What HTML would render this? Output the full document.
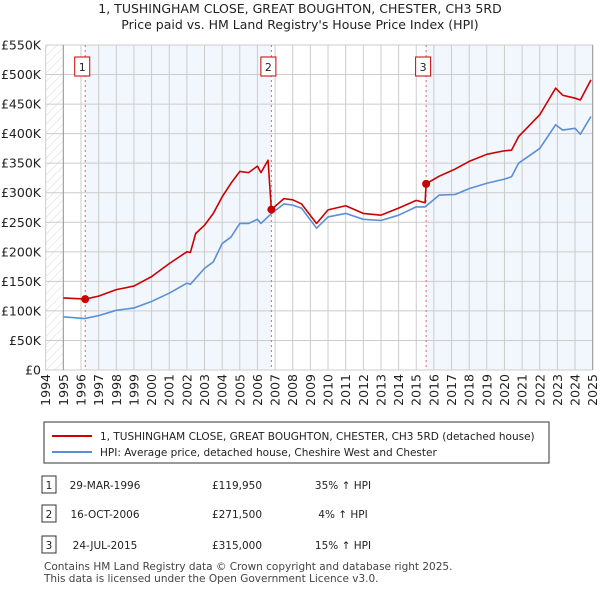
<!DOCTYPE html>
<html><head><meta charset="utf-8"><style>
body{margin:0;background:#fff;font-family:"Liberation Sans",sans-serif;}
svg text{font-family:"DejaVu Sans","Liberation Sans",sans-serif;}
</style></head><body>
<svg id="c" width="600" height="590" xmlns="http://www.w3.org/2000/svg">
<defs><pattern id="hatch" width="6" height="6" patternUnits="userSpaceOnUse" patternTransform="rotate(45)"><line x1="0" y1="0" x2="0" y2="6" stroke="#d8d8d8" stroke-width="1"/></pattern></defs>
<text x="300" y="13" text-anchor="middle" font-size="12.5" fill="#222">1, TUSHINGHAM CLOSE, GREAT BOUGHTON, CHESTER, CH3 5RD</text>
<text x="300" y="29" text-anchor="middle" font-size="12.5" fill="#222">Price paid vs. HM Land Registry's House Price Index (HPI)</text>
<g id="plot"></g>
<g>
<rect x="44" y="422" width="505" height="41" fill="#fff" stroke="#333"/>
<line x1="52" y1="436" x2="92" y2="436" stroke="#cc0000" stroke-width="2"/>
<text x="100" y="440" font-size="10.5" fill="#222">1, TUSHINGHAM CLOSE, GREAT BOUGHTON, CHESTER, CH3 5RD (detached house)</text>
<line x1="52" y1="452" x2="92" y2="452" stroke="#5b8fd4" stroke-width="2"/>
<text x="100" y="456" font-size="10.5" fill="#222">HPI: Average price, detached house, Cheshire West and Chester</text>
</g>
<g id="table" font-size="10.5" fill="#222"></g>
<text x="44" y="570" font-size="10.5" fill="#444">Contains HM Land Registry data © Crown copyright and database right 2025.</text>
<text x="44" y="582" font-size="10.5" fill="#444">This data is licensed under the Open Government Licence v3.0.</text>
</svg>
<script>
const hpiYears=[1995,1996.2,1997,1998,1999,2000,2001,2002,2002.2,2003,2003.5,2004,2004.5,2005,2005.5,2006,2006.2,2006.8,2007.5,2008,2008.5,2009.35,2010,2011,2012,2013,2014,2015,2015.5,2016.3,2017.2,2018,2019,2020,2020.4,2020.8,2022,2022.9,2023.3,2024,2024.3,2024.9];
const hpiValues=[90,87,92,101,105,116,130,147,145,172,183,214,225,248,248,255,248,265,281,279,274,240,259,265,255,253,262,276,276,296,297,307,316,323,327,350,375,415,406,409,399,429];
const propYears=[1995,1996.24,1997,1998,1999,2000,2001,2002,2002.2,2002.5,2003,2003.5,2004,2004.5,2005,2005.5,2006,2006.2,2006.6,2006.79,2007.5,2008,2008.5,2009.35,2010,2011,2012,2013,2014,2015,2015.5,2015.56,2016.3,2017.2,2018,2019,2020,2020.4,2020.8,2022,2022.9,2023.3,2024,2024.3,2024.9];
const propValues=[122,120,125,136,142,158,180,200,199,231,245,265,293,316,336,334,345,334,355,271.5,290,288,281,248,271,278,265,262,274,287,283,315,328,340,353,365,371,372,395,432,477,465,460,457,491];
const saleYears=[1996.24,2006.79,2015.56];
const saleValues=[119.95,271.5,315];
const saleLabels=["1","2","3"];
const saleDates=["29-MAR-1996","16-OCT-2006","24-JUL-2015"];
const salePrices=["£119,950","£271,500","£315,000"];
const salePcts=["35% ↑ HPI","4% ↑ HPI","15% ↑ HPI"];
const yTicks=[0,50,100,150,200,250,300,350,400,450,500,550];
const yTickLabels=["£0","£50K","£100K","£150K","£200K","£250K","£300K","£350K","£400K","£450K","£500K","£550K"];
const xTicks=[1994,1995,1996,1997,1998,1999,2000,2001,2002,2003,2004,2005,2006,2007,2008,2009,2010,2011,2012,2013,2014,2015,2016,2017,2018,2019,2020,2021,2022,2023,2024,2025];

const X0=45.7,X1=592.7,Y0=370,Y1=45;
const x=y=>X0+(y-1994)/(2025-1994)*(X1-X0);
const yv=v=>Y0-v/550*(Y0-Y1);
const NS="http://www.w3.org/2000/svg";
const plot=document.getElementById('plot');
function mk(tag,attrs,parent){const e=document.createElementNS(NS,tag);for(const k in attrs)e.setAttribute(k,attrs[k]);(parent||plot).appendChild(e);return e;}

let r=mk('rect',{x:X0,y:Y1,width:X1-X0,height:Y0-Y1,fill:'#fff'});


r=mk('rect',{x:X0,y:Y1,width:x(1995)-X0,height:Y0-Y1,fill:'url(#hatch)'});


r=mk('rect',{x:x(saleYears[0]),y:Y1,width:x(saleYears[1])-x(saleYears[0]),height:Y0-Y1,fill:'#f2f6fd'});


r=mk('rect',{x:x(saleYears[2]),y:Y1,width:X1-x(saleYears[2]),height:Y0-Y1,fill:'#f2f6fd'});



yTicks.forEach((t,i)=>{
  const l=mk('line',{x1:X0,x2:X1,y1:yv(t),y2:yv(t),stroke:'#ccc','stroke-width':1});
  
  
  const tx=mk('text',{x:41,y:yv(t)+4.5,'text-anchor':'end','font-size':12.5,fill:'#222'});
  tx.textContent=yTickLabels[i];
  
  
});
xTicks.forEach(t=>{
  const l=mk('line',{x1:x(t),x2:x(t),y1:Y1,y2:Y0,stroke:'#ccc','stroke-width':1});
  
  
  const tx=mk('text',{x:0,y:0,'text-anchor':'end','font-size':12.5,fill:'#222',transform:`translate(${x(t)+4.5},374) rotate(-90)`});
  tx.textContent=t;
  
  
});
let ax=mk('line',{x1:x(1995),x2:x(1995),y1:Y1,y2:Y0,stroke:'#999'});


ax=mk('line',{x1:X1,x2:X1,y1:Y1,y2:Y0,stroke:'#999'});



saleYears.forEach((s,i)=>{
  const l=mk('line',{x1:x(s),x2:x(s),y1:Y1,y2:Y0,stroke:'#e06666','stroke-dasharray':'2,3','stroke-width':1});
  
  
  const b=mk('rect',{x:x(s)-10.5,y:57,width:15,height:19,fill:'#fff',stroke:'#cc0000'});
  
  
  const t=mk('text',{x:x(s)-3,y:71,'text-anchor':'middle','font-size':11,fill:'#222'});
  t.textContent=saleLabels[i];
  
  
});

function line(xs,vs,color,name){
  const p=mk('polyline',{points:xs.map((t,i)=>x(t)+','+yv(vs[i])).join(' '),fill:'none',stroke:color,'stroke-width':1.6,'stroke-linejoin':'round'});
  
  
}
line(hpiYears,hpiValues,'#5b8fd4','hpi-line');
line(propYears,propValues,'#cc0000','property-price-line');
saleYears.forEach((s,i)=>{
  const c=mk('circle',{cx:x(s),cy:yv(saleValues[i]),r:4,fill:'#cc0000'});
  
  
});

const tb=document.getElementById('table');
const rowY=[488,517,548];
saleLabels.forEach((l,i)=>{
  const b=mk('rect',{x:42,y:rowY[i]-12,width:14,height:17,fill:'#fff',stroke:'#333'},tb);
  
  
  const cells=[[49,l,'middle'],[105,saleDates[i],'middle'],[237,salePrices[i],'middle'],[343,salePcts[i],'middle']];
  cells.forEach((c,j)=>{
    const t=mk('text',{x:c[0],y:rowY[i]+1,'text-anchor':c[2]},tb);
    t.textContent=c[1];
    
    
  });
});
</script>
</body></html>
